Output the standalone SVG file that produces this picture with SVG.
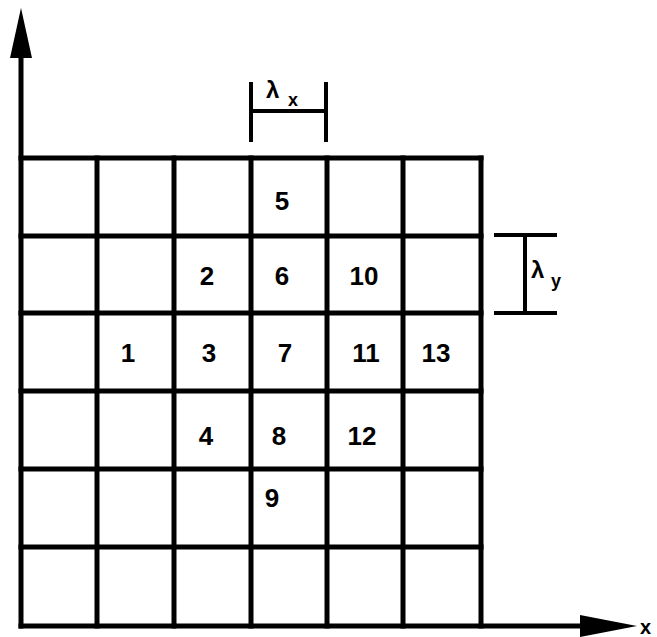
<svg xmlns="http://www.w3.org/2000/svg" width="657" height="637" viewBox="0 0 657 637">
<defs>
<style>
.ln{stroke:#000;stroke-width:5;fill:none;stroke-linecap:square}
.dim{stroke:#000;stroke-width:4;fill:none}
.num{font-family:"Liberation Sans",Arial,sans-serif;font-weight:bold;font-size:26px;fill:#000;text-anchor:middle}
.lab{font-family:"Liberation Sans",Arial,sans-serif;font-weight:bold;fill:#000}
</style>
</defs>
<rect width="657" height="637" fill="#fff"/>
<g id="connectors">
<!-- axes -->
<line class="ln" x1="21" y1="50" x2="21" y2="626"/>
<line class="ln" x1="21" y1="626" x2="590" y2="626"/>
<polygon points="21,8 10,58 32,58" fill="#000"/>
<polygon points="637,626 580,615 580,637" fill="#000"/>
<!-- grid verticals -->
<line class="ln" x1="97" y1="158" x2="97" y2="626"/>
<line class="ln" x1="174" y1="158" x2="174" y2="626"/>
<line class="ln" x1="251" y1="158" x2="251" y2="626"/>
<line class="ln" x1="327" y1="158" x2="327" y2="626"/>
<line class="ln" x1="403" y1="158" x2="403" y2="626"/>
<line class="ln" x1="481" y1="158" x2="481" y2="626"/>
<!-- grid horizontals -->
<line class="ln" x1="21" y1="158" x2="481" y2="158"/>
<line class="ln" x1="21" y1="236" x2="481" y2="236"/>
<line class="ln" x1="21" y1="313" x2="481" y2="313"/>
<line class="ln" x1="21" y1="391" x2="481" y2="391"/>
<line class="ln" x1="21" y1="469" x2="481" y2="469"/>
<line class="ln" x1="21" y1="547" x2="481" y2="547"/>
<!-- lambda x dimension -->
<line class="dim" x1="251" y1="82" x2="251" y2="142"/>
<line class="dim" x1="326" y1="82" x2="326" y2="142"/>
<line class="dim" x1="251" y1="111" x2="326" y2="111"/>
<!-- lambda y dimension -->
<line class="dim" x1="494" y1="235" x2="557" y2="235"/>
<line class="dim" x1="494" y1="313" x2="557" y2="313"/>
<line class="dim" x1="525" y1="235" x2="525" y2="313"/>
</g>
<g id="labels">
<text class="lab" x="266" y="98" font-size="24">λ</text>
<text class="lab" x="288" y="106" font-size="18">x</text>
<text class="lab" x="531" y="278" font-size="24">λ</text>
<text class="lab" x="551" y="287" font-size="18">y</text>
<text class="lab" x="640" y="634" font-size="20">x</text>
</g>
<g id="n5"><text class="num" x="282" y="210">5</text></g>
<g id="n2"><text class="num" x="207" y="285">2</text></g>
<g id="n6"><text class="num" x="282" y="285">6</text></g>
<g id="n10"><text class="num" x="364" y="285">10</text></g>
<g id="n1"><text class="num" x="128" y="362">1</text></g>
<g id="n3"><text class="num" x="209" y="362">3</text></g>
<g id="n7"><text class="num" x="285" y="362">7</text></g>
<g id="n11"><text class="num" x="366" y="362">11</text></g>
<g id="n13"><text class="num" x="436" y="362">13</text></g>
<g id="n4"><text class="num" x="206" y="445">4</text></g>
<g id="n8"><text class="num" x="279" y="445">8</text></g>
<g id="n12"><text class="num" x="362" y="445">12</text></g>
<g id="n9"><text class="num" x="272" y="507">9</text></g>
</svg>
